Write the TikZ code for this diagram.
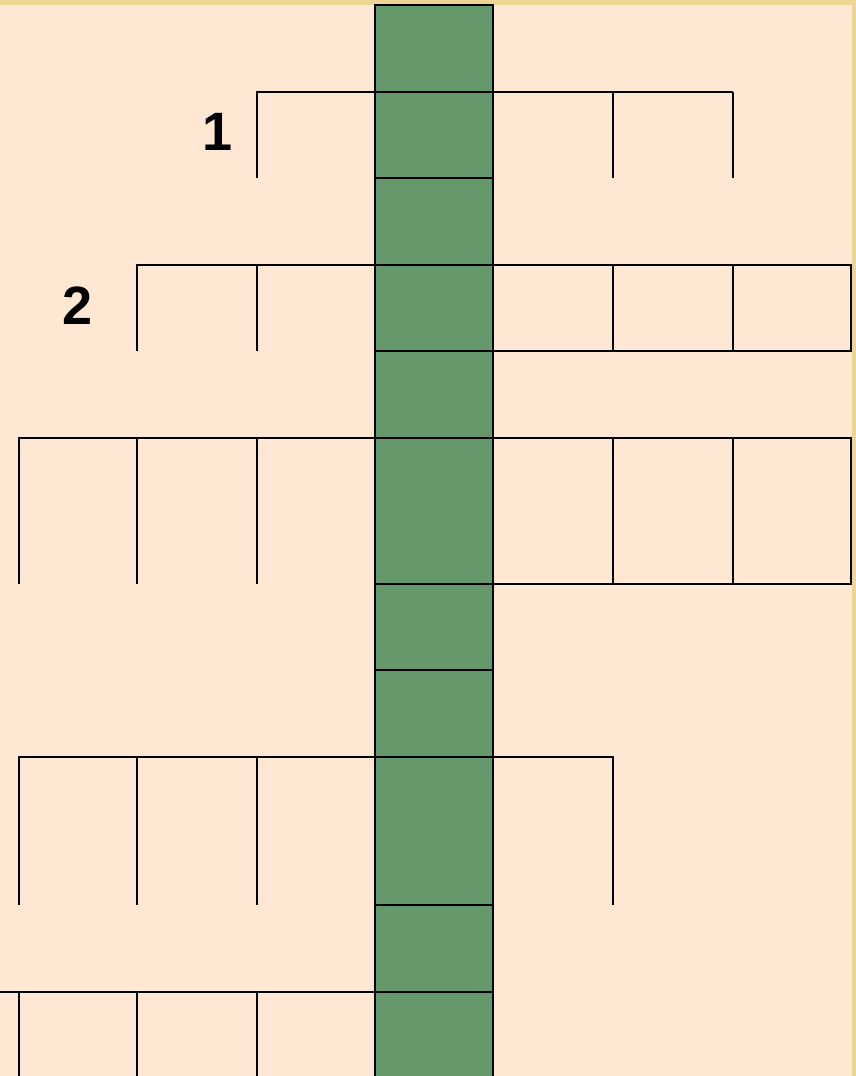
\documentclass[tikz,border=0pt]{standalone}
\usepackage{fontspec}
\setmainfont{Liberation Sans}
\definecolor{cwpaper}{HTML}{FEE7D3}
\definecolor{cwedge}{HTML}{EDD595}
\definecolor{cwgreen}{HTML}{65986A}
\begin{document}
\begin{tikzpicture}[x=1pt, y=-1pt, line width=2.6pt,
    num/.style={font=\fontsize{54}{60}\selectfont\bfseries}]
    \useasboundingbox (0,0) rectangle (856,1076);
    % paper
    \fill[cwedge] (0,0) rectangle (856,1076);
    \fill[cwpaper] (-2,5) rectangle (852,1078);
    % the green column (answer word)
    \fill[cwgreen] (375,5) rectangle (493,1078);
    \draw (375,1078) |- (493,5) -- (493,1078);
    \foreach \y in {92,178,265,351,438,584,670,757,905,992}
        \draw (375,\y) -- (493,\y);
    % row 1
    \draw (257,178) |- (733,92);
    \foreach \x in {613,733} \draw (\x,92) -- (\x,178);
    \node[num] (one) at (218,132) {1};
    % row 2
    \draw (137,351) |- (375,265);
    \draw (257,265) -- (257,351);
    \draw (493,265) rectangle (851,351);
    \foreach \x in {613,733} \draw (\x,265) -- (\x,351);
    \node[num] (two) at (78,306) {2};
    % row 3
    \draw (19,584) |- (375,438);
    \foreach \x in {137,257} \draw (\x,438) -- (\x,584);
    \draw (493,438) rectangle (851,584);
    \foreach \x in {613,733} \draw (\x,438) -- (\x,584);
    % row 4
    \draw (19,905) |- (613,757) -- (613,905);
    \foreach \x in {137,257} \draw (\x,757) -- (\x,905);
    % row 5
    \draw (-2,992) -- (375,992);
    \foreach \x in {19,137,257} \draw (\x,992) -- (\x,1078);
\end{tikzpicture}
\end{document}
